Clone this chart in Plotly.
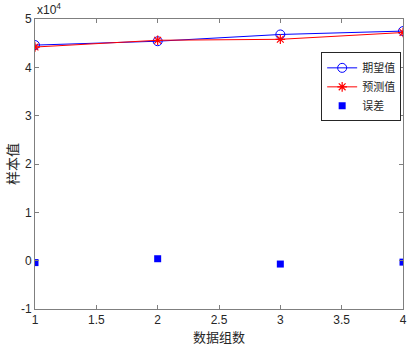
import plotly.graph_objects as go

groups = [1, 2, 3, 4]
expected = [44600, 45400, 46800, 47500]
predicted = [44200, 45600, 45800, 47200]
errors = [-400, 400, -700, -300]
y_tick_vals = [-10000, 0, 10000, 20000, 30000, 40000, 50000]
y_tick_text = ["-1", "0", "1", "2", "3", "4", "5"]
x_tick_vals = [1, 1.5, 2, 2.5, 3, 3.5, 4]
x_tick_text = ["1", "1.5", "2", "2.5", "3", "3.5", "4"]

font_main = "Liberation Sans, Arial, sans-serif"
font_cjk = "Noto Sans CJK SC, sans-serif"

fig = go.Figure()
fig.add_trace(go.Scatter(x=groups, y=expected, mode="lines+markers", name="期望值",
                         line=dict(color="#0000ff", width=1),
                         marker=dict(symbol="circle-open", size=9, color="#0000ff", line=dict(width=1))))
fig.add_trace(go.Scatter(x=groups, y=predicted, mode="lines+markers", name="预测值",
                         line=dict(color="#ff0000", width=1),
                         marker=dict(symbol="asterisk-open", size=8, color="#ff0000", line=dict(width=1.2, color="#ff0000"))))
fig.add_trace(go.Scatter(x=groups, y=errors, mode="markers", name="误差",
                         marker=dict(symbol="square", size=7, color="#0000ff")))

axis_common = dict(showgrid=False, zeroline=False, showline=True, linecolor="#7f7f7f",
                   linewidth=1, mirror="ticks", ticks="inside", ticklen=4, tickcolor="#7f7f7f",
                   tickfont=dict(family=font_main, size=12, color="#262626"))

fig.update_xaxes(range=[1, 4], tickvals=x_tick_vals, ticktext=x_tick_text, **axis_common)
fig.update_yaxes(range=[-10000, 50000], tickvals=y_tick_vals, ticktext=y_tick_text, **axis_common)

fig.add_annotation(x=0, y=1, xref="paper", yref="paper", xanchor="left", yanchor="bottom",
                   text="x10<sup>4</sup>", showarrow=False,
                   font=dict(family=font_main, size=12, color="#262626"))
fig.add_annotation(x=0.5, y=0, xref="paper", yref="paper", xanchor="center", yanchor="middle",
                   yshift=-27, text="数据组数", showarrow=False,
                   font=dict(family=font_cjk, size=13, color="#262626"))
fig.add_annotation(x=0, y=0.5, xref="paper", yref="paper", xanchor="center", yanchor="middle",
                   xshift=-23, text="样本值", textangle=-90, showarrow=False,
                   font=dict(family=font_cjk, size=14, color="#262626"))

fig.update_layout(
    width=417, height=345,
    margin=dict(l=35, r=10, t=19, b=36),
    paper_bgcolor="white", plot_bgcolor="white",
    showlegend=True,
    legend=dict(x=0.995, y=0.885, xanchor="right", yanchor="top",
                bgcolor="white", bordercolor="#262626", borderwidth=1,
                font=dict(family=font_cjk, size=11, color="#262626"),
                itemwidth=30, tracegroupgap=0),
)

fig.write_html("out.html", config={"displayModeBar": False},
               post_script="document.body.style.margin='0';document.body.style.overflow='hidden';")
